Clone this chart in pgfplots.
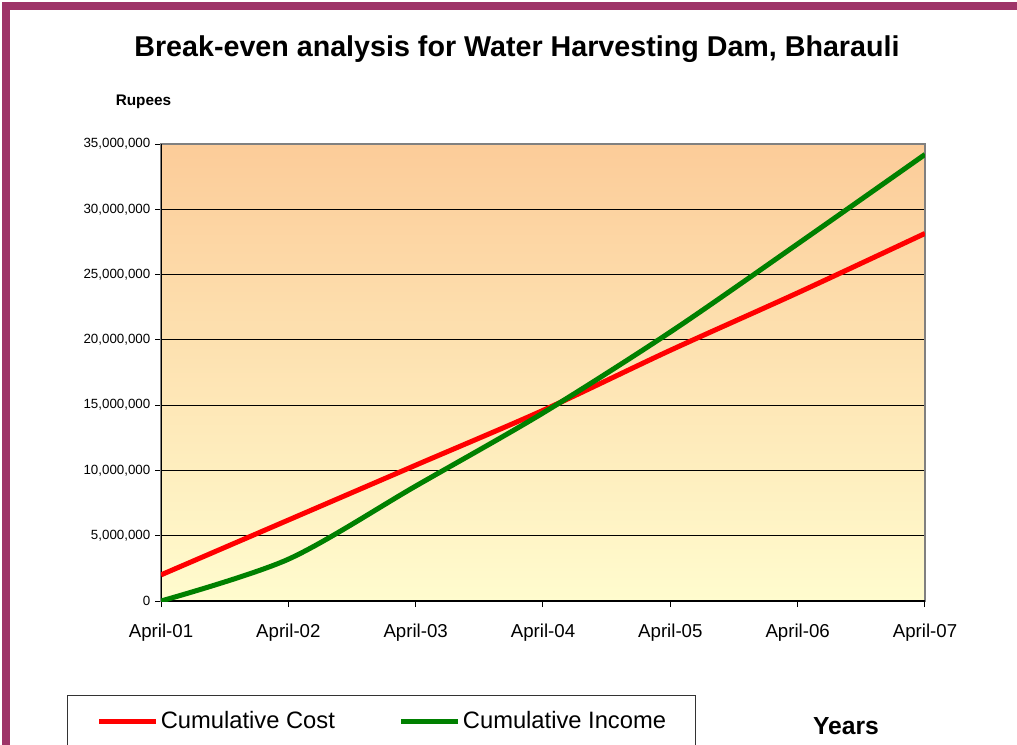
\documentclass[border=0pt]{standalone}
\usepackage{fontspec}
\setmainfont{Liberation Sans}
\usepackage{pgfplots}
\pgfplotsset{compat=1.18}
\definecolor{plum}{RGB}{158,52,104}
\definecolor{bgtop}{RGB}{252,204,153}
\definecolor{bgbot}{RGB}{255,252,206}
\definecolor{frameg}{RGB}{128,128,128}
\definecolor{incgreen}{RGB}{0,128,0}
\begin{document}
\begin{tikzpicture}
\path[use as bounding box] (0,0) rectangle (762.75pt,558pt);
\draw[plum, line width=6pt] (4.5pt,-20pt) -- (4.5pt,553.5pt) -- (780pt,553.5pt);
\node[anchor=base, font=\fontsize{21.5}{24}\selectfont\bfseries] at (387.75pt,515.25pt) {Break-even analysis for Water Harvesting Dam, Bharauli};
\node[anchor=base, font=\fontsize{11.5}{13}\selectfont\bfseries] at (107.6pt,478.5pt) {Rupees};
\node[anchor=base, font=\fontsize{18.5}{21}\selectfont\bfseries] at (634.5pt,7.5pt) {Years};
\begin{axis}[
  at={(120.75pt,107.25pt)}, anchor=south west,
  scale only axis, width=573pt, height=342.75pt,
  xmin=0, xmax=6, ymin=0, ymax=35000000,
  xtick={0,1,2,3,4,5,6},
  xticklabels={April-01,April-02,April-03,April-04,April-05,April-06,April-07},
  ytick={0,5000000,10000000,15000000,20000000,25000000,30000000,35000000},
  scaled y ticks=false,
  /pgf/number format/assume math mode=true,
  yticklabel style={/pgf/number format/fixed, /pgf/number format/1000 sep={,}, font=\fontsize{10}{12}\selectfont},
  xticklabel style={font=\fontsize{14}{16}\selectfont, yshift=-9pt},
  xtick align=outside, ytick align=outside, xtick pos=bottom, ytick pos=left,
  major tick length=4.5pt,
  every tick/.style={draw=black, line width=0.75pt},
  axis line style={frameg, line width=1.5pt},
  ymajorgrids, grid style={black, line width=0.6pt},
  axis background/.style={top color=bgtop, bottom color=bgbot},
  legend columns=2,
  legend style={at={(-0.12304,-0.20569)}, anchor=north west, draw=black!80, line width=0.75pt,
    inner xsep=22pt, inner ysep=12pt, font=\fontsize{17.8}{20}\selectfont,
    nodes={inner sep=0pt}, column sep=1.5pt},
  legend cell align=left,
  legend image code/.code={\draw[#1, line width=3.75pt] (0pt,0pt) -- (42.75pt,0pt);},
]
\draw[black, line width=1pt] (rel axis cs:0,1) -- (rel axis cs:0,0) -- (rel axis cs:1,0);
\addplot[red, line width=3.75pt, smooth] coordinates {
  (0,2000000) (1,6200000) (2,10400000) (3,14600000) (4,19200000) (5,23600000) (6,28150000)};
\addlegendentry{Cumulative Cost\rule{46.5pt}{0pt}}
\addplot[incgreen, line width=3.75pt, smooth] coordinates {
  (0,0) (1,3200000) (2,8800000) (3,14400000) (4,20600000) (5,27350000) (6,34200000)};
\addlegendentry{Cumulative Income}
\end{axis}
\end{tikzpicture}
\end{document}
